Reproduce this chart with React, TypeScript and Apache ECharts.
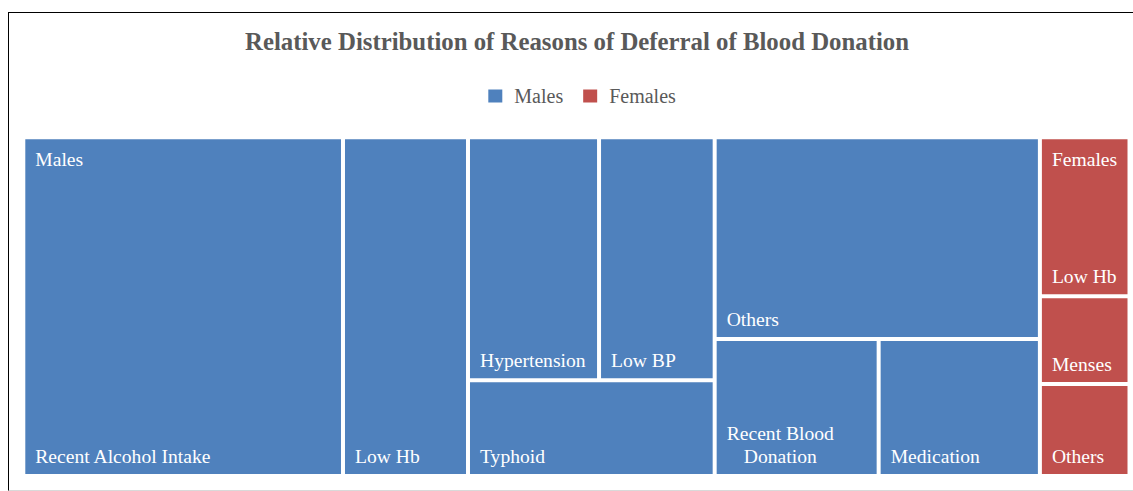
import React, { useEffect, useRef } from "react";
import * as echarts from "echarts";

// ---- data ----
const titleText = "Relative Distribution of Reasons of Deferral of Blood Donation";
const groupNames = ["Males", "Females"];
const groupColors = ["#4F81BD", "#C0504D"];

const maleReasons = [
  "Recent Alcohol Intake",
  "Low Hb",
  "Hypertension",
  "Low BP",
  "Typhoid",
  "Others",
  "Recent Blood Donation",
  "Medication",
];
const maleShares = [28.9, 11.3, 8.5, 7.5, 6.3, 17.5, 6.0, 5.9];

const femaleReasons = ["Low Hb", "Menses", "Others"];
const femaleShares = [3.8, 2.1, 2.2];

// tile grouping (indices into the reason lists) that reproduces the spreadsheet's tiling order
const maleTiling: any[] = [0, 1, [[[2, 3], 4], [5, [6, 7]]]];
const femaleTiling: any[] = [0, 1, 2];

// labels that the spreadsheet wraps onto two centred lines
const wrappedLabels: Record<string, string[]> = {
  "Recent Blood Donation": ["Recent Blood", "Donation"],
};

const FONT = "'Times New Roman', 'Liberation Serif', serif";
const LABEL_SIZE = 19.6;
const LINE_H = 23;
const BOTTOM_OFFSET = -29.4;

function measure(text: string): number {
  const ctx = document.createElement("canvas").getContext("2d");
  if (!ctx) return text.length * LABEL_SIZE * 0.45;
  ctx.font = `${LABEL_SIZE}px 'Liberation Serif', serif`;
  return ctx.measureText(text).width;
}

function buildTiles(tiling: any[], names: string[], values: number[], color: string, group: string, caption: boolean): any[] {
  return tiling.map((t) => {
    if (Array.isArray(t)) {
      return {
        name: "",
        children: buildTiles(t, names, values, color, group, caption),
        itemStyle: { borderWidth: 0, gapWidth: 0, borderColor: caption ? "rgba(0,0,0,0)" : "#fff" },
      };
    }
    const name = names[t];
    const lines = wrappedLabels[name];
    const item: any = {
      name,
      value: values[t],
      group,
      first: t === 0,
      itemStyle: caption
        ? { color: "rgba(0,0,0,0)", borderColor: "rgba(0,0,0,0)", borderWidth: 2 }
        : { color, borderColor: "#fff", borderWidth: 2 },
    };
    if (!caption && lines) {
      item.label = { offset: [0, BOTTOM_OFFSET - LINE_H * (lines.length - 1)] };
    }
    return item;
  });
}

function buildTree(caption: boolean) {
  return groupNames.map((g, i) => ({
    name: g,
    itemStyle: { color: groupColors[i], borderWidth: 0, gapWidth: 0, borderColor: caption ? "rgba(0,0,0,0)" : "#fff" },
    children:
      i === 0
        ? buildTiles(maleTiling, maleReasons, maleShares, groupColors[0], g, caption)
        : buildTiles(femaleTiling, femaleReasons, femaleShares, groupColors[1], g, caption),
  }));
}

const treemapBox = { left: 14.3, top: 124.3, width: 1106.2, height: 338.7 };

const treemapCommon = {
  type: "treemap",
  ...treemapBox,
  squareRatio: 1,
  sort: false,
  roam: false,
  nodeClick: false,
  breadcrumb: { show: false },
  upperLabel: { show: false },
  emphasis: { disabled: true },
  itemStyle: { borderWidth: 0, gapWidth: 0 },
};

export default function App() {
  const ref = useRef<HTMLDivElement>(null);
  useEffect(() => {
    const chart = echarts.init(ref.current!, null, { renderer: "svg" });

    // rich styles: wrapped lines are centred on each other
    const rich: any = {};
    Object.keys(wrappedLabels).forEach((key, k) => {
      const lines = wrappedLabels[key];
      const widths = lines.map(measure);
      const maxW = Math.max(...widths);
      lines.forEach((_, j) => {
        rich[`w${k}_${j}`] = {
          color: "#fff",
          fontFamily: FONT,
          fontSize: LABEL_SIZE,
          lineHeight: LINE_H,
          padding: [0, 0, 0, (maxW - widths[j]) / 2],
        };
      });
    });
    const wrapKeys = Object.keys(wrappedLabels);

    const option: any = {
      animation: false,
      title: {
        text: titleText,
        left: "center",
        top: 16.2,
        padding: 0,
        textStyle: { fontFamily: FONT, fontWeight: "bold", fontSize: 24.8, color: "#595959" },
      },
      legend: {
        data: groupNames,
        icon: "rect",
        itemWidth: 14,
        itemHeight: 13,
        itemGap: 20,
        left: 479.3,
        top: 73,
        padding: 0,
        selectedMode: false,
        itemStyle: { opacity: 1 },
        textStyle: { fontFamily: FONT, fontSize: 20, color: "#595959", padding: [0, 0, 0, 7] },
      },
      grid: { left: 0, top: 0, width: 1, height: 1, show: false },
      xAxis: { type: "value", show: false },
      yAxis: { type: "value", show: false },
      series: [
        { type: "scatter", name: groupNames[0], data: [], itemStyle: { color: groupColors[0], opacity: 1 } },
        { type: "scatter", name: groupNames[1], data: [], itemStyle: { color: groupColors[1], opacity: 1 } },
        {
          ...treemapCommon,
          name: "Reasons",
          label: {
            show: true,
            position: [0, "100%"],
            offset: [0, BOTTOM_OFFSET],
            distance: 0,
            padding: [0, 0, 0, 10],
            color: "#fff",
            fontFamily: FONT,
            fontSize: LABEL_SIZE,
            lineHeight: LINE_H,
            formatter: (p: any) => {
              const k = wrapKeys.indexOf(p.name);
              if (k < 0) return p.name;
              return wrappedLabels[p.name].map((l, j) => `{w${k}_${j}|${l}}`).join("\n");
            },
            rich,
          },
          data: buildTree(false),
        },
        {
          ...treemapCommon,
          name: "Groups",
          silent: true,
          itemStyle: { borderWidth: 0, gapWidth: 0, borderColor: "rgba(0,0,0,0)" },
          label: {
            show: true,
            position: "insideTopLeft",
            distance: 0,
            padding: [8.6, 0, 0, 10],
            color: "#fff",
            fontFamily: FONT,
            fontSize: LABEL_SIZE,
            lineHeight: LINE_H,
            formatter: (p: any) => (p.data && p.data.first ? p.data.group : ""),
          },
          data: buildTree(true),
        },
      ],
    };
    chart.setOption(option);
    return () => chart.dispose();
  }, []);
  return (
    <div
      style={{
        position: "fixed",
        left: 8,
        top: 12,
        width: 1140,
        height: 479,
        boxSizing: "border-box",
        borderTop: "1px solid #000",
        borderLeft: "1px solid #000",
        borderRight: "1px solid #000",
        borderBottom: "1px solid #d9d9d9",
        overflow: "hidden",
        background: "#fff",
      }}
    >
      <div ref={ref} style={{ width: 1136, height: 477 }} />
    </div>
  );
}
